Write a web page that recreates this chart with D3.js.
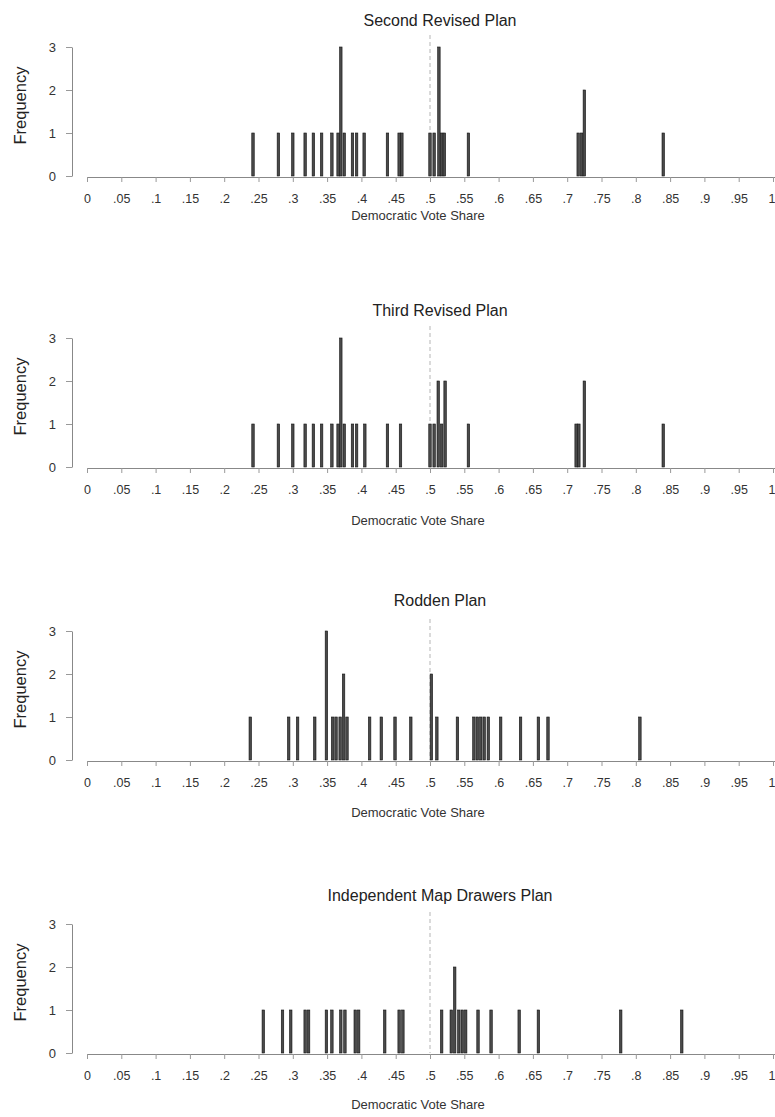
<!DOCTYPE html>
<html><head><meta charset="utf-8">
<script src="https://cdn.jsdelivr.net/npm/d3@7"></script>
<style>
body{margin:0;background:#fff}
text{font-family:"Liberation Sans",Arial,sans-serif}
</style>
</head><body>
<svg id="chart" width="775" height="1117"></svg>
<script>
// ---------- data ----------
const planTitles = ["Second Revised Plan", "Third Revised Plan", "Rodden Plan", "Independent Map Drawers Plan"];

const secondRevisedShares = [0.242, 0.279, 0.300, 0.318, 0.330, 0.342, 0.357, 0.366, 0.370, 0.375, 0.387, 0.393, 0.404, 0.438, 0.455, 0.459, 0.500, 0.506, 0.513, 0.517, 0.521, 0.556, 0.716, 0.721, 0.725, 0.840];
const secondRevisedCounts = [1, 1, 1, 1, 1, 1, 1, 1, 3, 1, 1, 1, 1, 1, 1, 1, 1, 1, 3, 1, 1, 1, 1, 1, 2, 1];

const thirdRevisedShares = [0.242, 0.279, 0.300, 0.318, 0.330, 0.342, 0.357, 0.366, 0.370, 0.375, 0.387, 0.393, 0.405, 0.438, 0.457, 0.500, 0.506, 0.512, 0.517, 0.522, 0.556, 0.713, 0.717, 0.725, 0.840];
const thirdRevisedCounts = [1, 1, 1, 1, 1, 1, 1, 1, 3, 1, 1, 1, 1, 1, 1, 1, 1, 2, 1, 2, 1, 1, 1, 2, 1];

const roddenShares = [0.238, 0.294, 0.307, 0.332, 0.349, 0.358, 0.363, 0.369, 0.374, 0.379, 0.412, 0.429, 0.449, 0.472, 0.502, 0.510, 0.540, 0.564, 0.569, 0.574, 0.579, 0.585, 0.603, 0.632, 0.658, 0.672, 0.806];
const roddenCounts = [1, 1, 1, 1, 3, 1, 1, 1, 2, 1, 1, 1, 1, 1, 2, 1, 1, 1, 1, 1, 1, 1, 1, 1, 1, 1, 1];

const independentShares = [0.257, 0.285, 0.297, 0.318, 0.323, 0.349, 0.357, 0.370, 0.376, 0.391, 0.396, 0.434, 0.455, 0.4605, 0.517, 0.531, 0.536, 0.542, 0.547, 0.552, 0.570, 0.589, 0.630, 0.658, 0.778, 0.867];
const independentCounts = [1, 1, 1, 1, 1, 1, 1, 1, 1, 1, 1, 1, 1, 1, 1, 1, 2, 1, 1, 1, 1, 1, 1, 1, 1, 1];

const xTickValues = [0, 0.05, 0.1, 0.15, 0.2, 0.25, 0.3, 0.35, 0.4, 0.45, 0.5, 0.55, 0.6, 0.65, 0.7, 0.75, 0.8, 0.85, 0.9, 0.95, 1];
const xTickLabels = ["0", ".05", ".1", ".15", ".2", ".25", ".3", ".35", ".4", ".45", ".5", ".55", ".6", ".65", ".7", ".75", ".8", ".85", ".9", ".95", "1"];
const yTickValues = [0, 1, 2, 3];
const yTickLabels = ["0", "1", "2", "3"];
const referenceShare = 0.5;
const binWidth = 0.0036;

const panels = [
  {title: planTitles[0], shares: secondRevisedShares, counts: secondRevisedCounts},
  {title: planTitles[1], shares: thirdRevisedShares, counts: thirdRevisedCounts},
  {title: planTitles[2], shares: roddenShares, counts: roddenCounts},
  {title: planTitles[3], shares: independentShares, counts: independentCounts}
];

// ---------- layout ----------
const baseY = [176, 467, 760, 1053];
const titleY = [20, 310, 600, 895];
const xTitleY = [215, 520, 812, 1104];
const plotH = 129;
const yAxisX = 72;
const FONT = '"Liberation Sans",Arial,sans-serif';

const svg = d3.select("#chart");
const x = d3.scaleLinear().domain([0, 1]).range([87, 773]);

panels.forEach((p, i) => {
  const b = baseY[i];
  const y = d3.scaleLinear().domain([0, 3]).range([b, b - plotH]);
  const g = svg.append("g");

  // title
  g.append("text").attr("x", 440).attr("y", titleY[i]).attr("dy", "0.35em")
    .attr("text-anchor", "middle").attr("font-size", 16).attr("fill", "#222")
    .text(p.title);

  // reference dashed line
  g.append("line").attr("x1", x(referenceShare)).attr("x2", x(referenceShare))
    .attr("y1", b - plotH - 12).attr("y2", b)
    .attr("stroke", "#b5b5b5").attr("stroke-width", 1).attr("stroke-dasharray", "4,3");

  // bars
  const data = p.shares.map((s, k) => ({s, c: p.counts[k]}));
  const w = x(binWidth) - x(0);
  g.selectAll("rect.bar").data(data).join("rect").attr("class", "bar")
    .attr("x", d => x(d.s) - w / 2).attr("width", w)
    .attr("y", d => y(d.c)).attr("height", d => b - y(d.c))
    .attr("fill", "#4a4a4a").attr("stroke", "#111").attr("stroke-width", 0.6);

  // x axis
  const xa = d3.axisBottom(x).tickValues(xTickValues)
    .tickFormat((d, k) => xTickLabels[k]).tickSize(5).tickSizeOuter(0).tickPadding(12);
  const gx = g.append("g").attr("transform", `translate(0,${b + 1})`).call(xa);
  gx.select(".domain").attr("stroke", "#888").attr("d", `M${x(0) + 1},0.5H775`);
  gx.selectAll(".tick line").attr("stroke", "#999");
  gx.selectAll(".tick text").attr("font-size", 12.5).attr("fill", "#333").attr("font-family", FONT);
  gx.selectAll(".tick text").filter(d => d === 1).attr("text-anchor", "end").attr("x", 775 - x(1));

  g.append("text").attr("x", 418).attr("y", xTitleY[i]).attr("dy", "0.35em")
    .attr("text-anchor", "middle").attr("font-size", 13).attr("fill", "#333")
    .text("Democratic Vote Share");

  // y axis
  const ya = d3.axisLeft(y).tickValues(yTickValues)
    .tickFormat((d, k) => yTickLabels[k]).tickSize(6).tickSizeOuter(0).tickPadding(10);
  const gy = g.append("g").attr("transform", `translate(${yAxisX},0)`).call(ya);
  gy.select(".domain").attr("stroke", "#888");
  gy.selectAll(".tick line").attr("stroke", "#999");
  gy.selectAll(".tick text").attr("font-size", 13).attr("fill", "#333").attr("font-family", FONT);

  g.append("text").attr("transform", `translate(20,${b - plotH / 2 - 6}) rotate(-90)`)
    .attr("dy", "0.35em").attr("text-anchor", "middle").attr("font-size", 16.5).attr("fill", "#222")
    .text("Frequency");
});
</script>
</body></html>
